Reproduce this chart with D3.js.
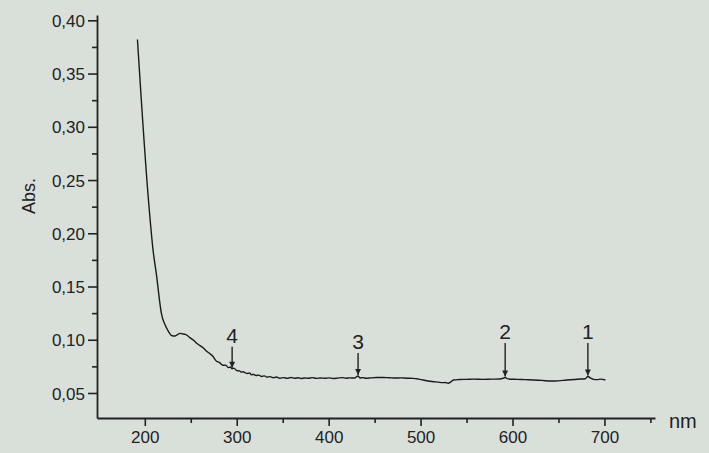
<!DOCTYPE html>
<html>
<head>
<meta charset="utf-8">
<script src="https://cdn.jsdelivr.net/npm/d3@7"></script>
<style>
  html, body { margin: 0; padding: 0; background: #d9e0da; }
  svg { display: block; font-family: "Liberation Sans", Arial, sans-serif; }
</style>
</head>
<body>
<svg id="chart" width="709" height="453"></svg>
<script>
// spectrum (nm, Abs.)
const wavelengths = [192, 204, 209, 213, 216, 218, 222, 226, 229, 233, 236, 238, 241, 244, 247, 249,
  253, 256, 260, 264, 267, 271, 274, 278, 281, 285, 288, 291, 293, 295, 297, 300, 303, 305, 307, 310, 312, 314,
  316, 318, 321, 324, 327, 330, 333, 336, 340, 343, 347, 351, 355, 359, 363, 367, 370, 374, 378, 382, 387, 391,
  396, 400, 405, 410, 415, 419, 423, 428, 432, 434, 437, 441, 446, 452, 459, 466, 473, 478, 485, 492, 498, 503,
  508, 514, 519, 524, 527, 530, 533, 536, 542, 550, 558, 568, 577, 586, 590, 592, 595, 605, 614, 623, 632, 641,
  650, 659, 667, 674, 679, 682, 685, 688, 692, 696, 701];
const absorbance = [0.382, 0.231, 0.184, 0.159, 0.137, 0.125, 0.114, 0.1075, 0.104, 0.1035, 0.105, 0.106, 0.1055, 0.105, 0.1035, 0.102,
  0.0995, 0.097, 0.0945, 0.092, 0.0895, 0.0868, 0.0845, 0.0798, 0.0788, 0.0760, 0.0762, 0.0738, 0.0744, 0.0727, 0.0733, 0.0710, 0.0708, 0.0696, 0.0700, 0.0686, 0.0683, 0.0688,
  0.0670, 0.0676, 0.0664, 0.0668, 0.0655, 0.0661, 0.0648, 0.0654, 0.0643, 0.0650, 0.0639, 0.0644, 0.0637, 0.0646, 0.0638, 0.0643, 0.0636, 0.0641, 0.0638, 0.0644, 0.0637, 0.0641,
  0.0638, 0.0642, 0.0636, 0.0640, 0.0644, 0.0639, 0.0642, 0.0640, 0.0660, 0.0641, 0.0644, 0.0638, 0.0642, 0.0645, 0.0646, 0.0643, 0.0640, 0.0642, 0.0639, 0.0637, 0.0630, 0.0622,
  0.0612, 0.0606, 0.0602, 0.0597, 0.0598, 0.0591, 0.0605, 0.0622, 0.0626, 0.0628, 0.0630, 0.0628, 0.0630, 0.0631, 0.0638, 0.0645, 0.0632, 0.0628, 0.0625, 0.0622, 0.0618, 0.0612,
  0.0614, 0.0622, 0.0626, 0.0631, 0.0633, 0.0655, 0.0640, 0.0628, 0.0625, 0.0630, 0.0622];

// numbered arrows: wavelength, label, top of the arrow in Abs. units
const markerNm = [295, 432, 592, 682];
const markerLabels = ["4", "3", "2", "1"];
const markerTop = [0.0935, 0.0875, 0.0970, 0.0970];

const yMajor = [0.05, 0.10, 0.15, 0.20, 0.25, 0.30, 0.35, 0.40];
const yMinor = [0.075, 0.125, 0.175, 0.225, 0.275, 0.325, 0.375];
const xMajor = [200, 300, 400, 500, 600, 700];
const xMinor = [250, 350, 450, 550, 650, 750];

const svg = d3.select("#chart");
const ink = "#222";

const x = d3.scaleLinear().domain([148, 755]).range([97, 655]);
const y = d3.scaleLinear().domain([0.0265, 0.405]).range([418, 15]);

const fmt = d => d3.format(".2f")(d).replace(".", ",");

// y axis
const gy = svg.append("g").attr("transform", `translate(${x(148)},0)`);
gy.call(d3.axisLeft(y).tickValues(yMajor).tickFormat(fmt).tickSize(9).tickSizeOuter(0));
gy.append("g").call(d3.axisLeft(y).tickValues(yMinor).tickFormat("").tickSize(5).tickSizeOuter(0))
  .select(".domain").remove();

// x axis
const gx = svg.append("g").attr("transform", `translate(0,${y(0.0265)})`);
gx.call(d3.axisBottom(x).tickValues(xMajor).tickSize(8).tickSizeOuter(0));
gx.append("g").call(d3.axisBottom(x).tickValues(xMinor).tickFormat("").tickSize(5).tickSizeOuter(0))
  .select(".domain").remove();

svg.selectAll(".domain").attr("stroke", ink).attr("stroke-width", 1.8);
svg.selectAll(".tick line").attr("stroke", ink).attr("stroke-width", 1.6);
svg.selectAll(".tick text").attr("fill", ink).style("font-size", "17px")
  .style("font-family", "'Liberation Sans', Arial, sans-serif");
gy.selectAll(".tick text").attr("x", -12).attr("dy", "0.36em");
gx.selectAll(".tick text").attr("y", 13).attr("dy", "0.71em");

// axis titles
svg.append("text")
  .attr("transform", `translate(35,${y(0.235)}) rotate(-90)`)
  .attr("text-anchor", "middle")
  .attr("fill", ink).style("font-size", "18px")
  .text("Abs.");

svg.append("text")
  .attr("x", x(755) + 14).attr("y", y(0.0265) + 10)
  .attr("fill", ink).style("font-size", "20px")
  .text("nm");

// spectrum
const pts = wavelengths.map((w, i) => [w, absorbance[i]]);
svg.append("path")
  .datum(pts)
  .attr("fill", "none")
  .attr("stroke", "#1a1a1a")
  .attr("stroke-width", 1.4)
  .attr("stroke-linejoin", "round")
  .attr("d", d3.line().curve(d3.curveMonotoneX).x(d => x(d[0])).y(d => y(d[1])));

// arrows
const absAt = nm => {
  const i = d3.bisectLeft(wavelengths, nm);
  const w0 = wavelengths[i - 1], w1 = wavelengths[i];
  const t = (nm - w0) / (w1 - w0);
  return absorbance[i - 1] + t * (absorbance[i] - absorbance[i - 1]);
};

svg.append("defs").append("marker")
  .attr("id", "head")
  .attr("viewBox", "0 0 10 10")
  .attr("refX", 10).attr("refY", 5)
  .attr("markerWidth", 8).attr("markerHeight", 6)
  .attr("markerUnits", "userSpaceOnUse")
  .attr("orient", "auto")
  .append("path").attr("d", "M0,0 L10,5 L0,10 Z").attr("fill", ink);

const marks = svg.append("g").selectAll("g")
  .data(markerNm.map((nm, i) => ({ nm, label: markerLabels[i], top: markerTop[i] })))
  .join("g");

marks.append("line")
  .attr("x1", d => x(d.nm)).attr("x2", d => x(d.nm))
  .attr("y1", d => y(d.top)).attr("y2", d => y(absAt(d.nm)) - 1)
  .attr("stroke", ink).attr("stroke-width", 1.4)
  .attr("marker-end", "url(#head)");

marks.append("text")
  .attr("x", d => x(d.nm)).attr("y", d => y(d.top) - 4)
  .attr("text-anchor", "middle")
  .attr("fill", ink).style("font-size", "21px")
  .text(d => d.label);
</script>
</body>
</html>
